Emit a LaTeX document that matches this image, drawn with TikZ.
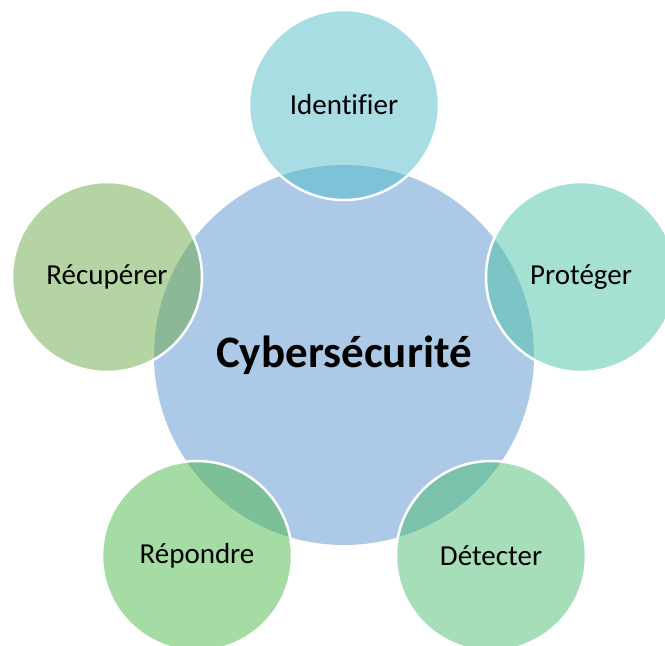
\documentclass[tikz,border=0pt]{standalone}
\usepackage{fontspec}
\setmainfont[Ligatures=NoCommon]{Carlito}
\definecolor{centerc}{RGB}{172,201,232}
\definecolor{idc}{RGB}{81,189,199}
\definecolor{protc}{RGB}{75,195,167}
\definecolor{detc}{RGB}{75,189,115}
\definecolor{repc}{RGB}{75,185,71}
\definecolor{recc}{RGB}{107,169,71}
\tikzset{
  hub/.style={circle, fill=centerc, minimum size=380pt, inner sep=0pt,
    font=\fontsize{45pt}{49pt}\selectfont\bfseries},
  petal/.style={circle, fill=#1, fill opacity=0.5, text opacity=1,
    draw=white, draw opacity=1, line width=2.5pt, minimum size=190pt, inner sep=0pt,
    font=\fontsize{29pt}{33pt}\selectfont}
}
\begin{document}
\begin{tikzpicture}[x=1pt,y=-1pt]
\useasboundingbox (0,0) rectangle (665,646);
\node[hub] (c) at (344,355) {Cybersécurité};
\node[petal=idc] (id) at (344,105) {Identifier};
\node[petal=protc] (pr) at (581,277) {Protéger};
\node[petal=detc] (de) at (491,556) {Détecter};
\node[petal=repc] (re) at (197,556) {Répondre};
\node[petal=recc] (rc) at (107,277) {Récupérer};
\end{tikzpicture}
\end{document}
